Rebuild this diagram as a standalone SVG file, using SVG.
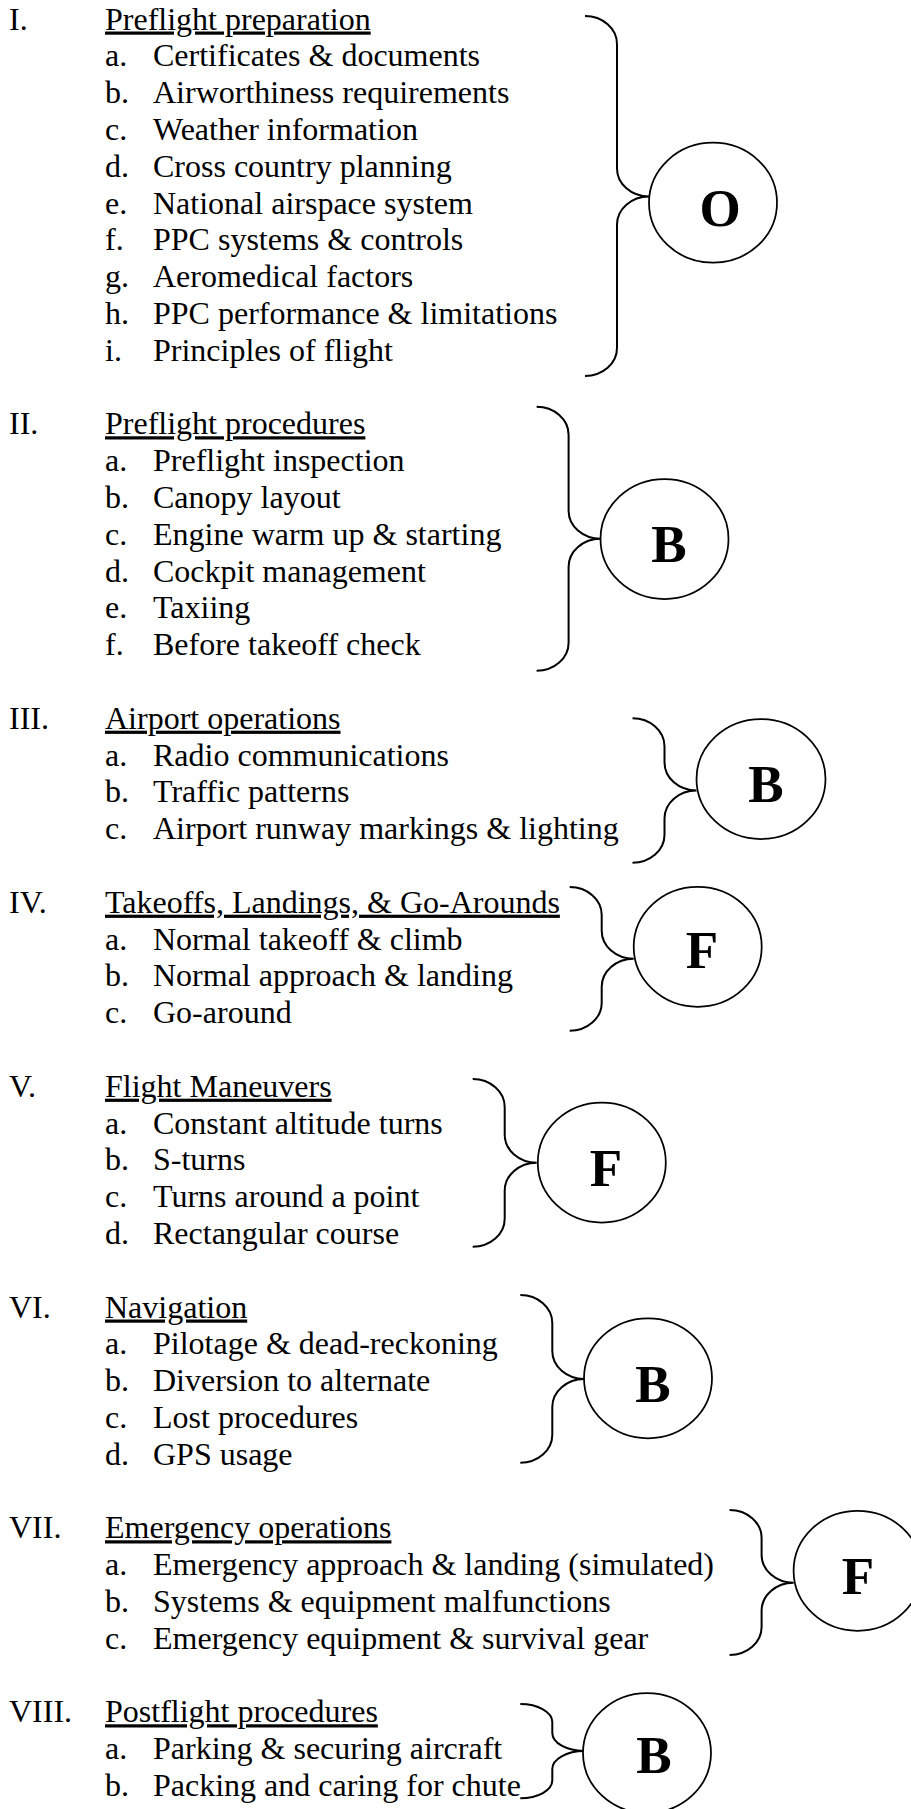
<svg xmlns="http://www.w3.org/2000/svg" width="911" height="1809" viewBox="0 0 911 1809">
<style>
text { font-family: "Liberation Serif", "Times New Roman", serif; font-size: 32px; fill: #000; }
.h { text-decoration: underline; }
.grade { font-size: 53px; font-weight: bold; text-anchor: middle; }
.node { fill: #fff; stroke: #000; stroke-width: 1.75; }
.brace { fill: none; stroke: #000; stroke-width: 2; }
</style>
<rect width="911" height="1809" fill="#fff"/>
<g id="section-1">
<text x="9" y="29.5">I.</text><text class="h" x="105" y="29.5">Preflight preparation</text>
<text x="105" y="66.3">a.</text><text x="153" y="66.3">Certificates &amp; documents</text>
<text x="105" y="103.1">b.</text><text x="153" y="103.1">Airworthiness requirements</text>
<text x="105" y="139.9">c.</text><text x="153" y="139.9">Weather information</text>
<text x="105" y="176.7">d.</text><text x="153" y="176.7">Cross country planning</text>
<text x="105" y="213.5">e.</text><text x="153" y="213.5">National airspace system</text>
<text x="105" y="250.3">f.</text><text x="153" y="250.3">PPC systems &amp; controls</text>
<text x="105" y="287.1">g.</text><text x="153" y="287.1">Aeromedical factors</text>
<text x="105" y="323.9">h.</text><text x="153" y="323.9">PPC performance &amp; limitations</text>
<text x="105" y="360.7">i.</text><text x="153" y="360.7">Principles of flight</text>
</g>
<g id="section-2">
<text x="9" y="434.3">II.</text><text class="h" x="105" y="434.3">Preflight procedures</text>
<text x="105" y="471.1">a.</text><text x="153" y="471.1">Preflight inspection</text>
<text x="105" y="507.9">b.</text><text x="153" y="507.9">Canopy layout</text>
<text x="105" y="544.7">c.</text><text x="153" y="544.7">Engine warm up &amp; starting</text>
<text x="105" y="581.5">d.</text><text x="153" y="581.5">Cockpit management</text>
<text x="105" y="618.3">e.</text><text x="153" y="618.3">Taxiing</text>
<text x="105" y="655.1">f.</text><text x="153" y="655.1">Before takeoff check</text>
</g>
<g id="section-3">
<text x="9" y="728.7">III.</text><text class="h" x="105" y="728.7">Airport operations</text>
<text x="105" y="765.5">a.</text><text x="153" y="765.5">Radio communications</text>
<text x="105" y="802.3">b.</text><text x="153" y="802.3">Traffic patterns</text>
<text x="105" y="839.1">c.</text><text x="153" y="839.1">Airport runway markings &amp; lighting</text>
</g>
<g id="section-4">
<text x="9" y="912.7">IV.</text><text class="h" x="105" y="912.7">Takeoffs, Landings, &amp; Go-Arounds</text>
<text x="105" y="949.5">a.</text><text x="153" y="949.5">Normal takeoff &amp; climb</text>
<text x="105" y="986.3">b.</text><text x="153" y="986.3">Normal approach &amp; landing</text>
<text x="105" y="1023.1">c.</text><text x="153" y="1023.1">Go-around</text>
</g>
<g id="section-5">
<text x="9" y="1096.7">V.</text><text class="h" x="105" y="1096.7">Flight Maneuvers</text>
<text x="105" y="1133.5">a.</text><text x="153" y="1133.5">Constant altitude turns</text>
<text x="105" y="1170.3">b.</text><text x="153" y="1170.3">S-turns</text>
<text x="105" y="1207.1">c.</text><text x="153" y="1207.1">Turns around a point</text>
<text x="105" y="1243.9">d.</text><text x="153" y="1243.9">Rectangular course</text>
</g>
<g id="section-6">
<text x="9" y="1317.5">VI.</text><text class="h" x="105" y="1317.5">Navigation</text>
<text x="105" y="1354.3">a.</text><text x="153" y="1354.3">Pilotage &amp; dead-reckoning</text>
<text x="105" y="1391.1">b.</text><text x="153" y="1391.1">Diversion to alternate</text>
<text x="105" y="1427.9">c.</text><text x="153" y="1427.9">Lost procedures</text>
<text x="105" y="1464.7">d.</text><text x="153" y="1464.7">GPS usage</text>
</g>
<g id="section-7">
<text x="9" y="1538.3">VII.</text><text class="h" x="105" y="1538.3">Emergency operations</text>
<text x="105" y="1575.1">a.</text><text x="153" y="1575.1">Emergency approach &amp; landing (simulated)</text>
<text x="105" y="1611.9">b.</text><text x="153" y="1611.9">Systems &amp; equipment malfunctions</text>
<text x="105" y="1648.7">c.</text><text x="153" y="1648.7">Emergency equipment &amp; survival gear</text>
</g>
<g id="section-8">
<text x="9" y="1722.3">VIII.</text><text class="h" x="105" y="1722.3">Postflight procedures</text>
<text x="105" y="1759.1">a.</text><text x="153" y="1759.1">Parking &amp; securing aircraft</text>
<text x="105" y="1795.9">b.</text><text x="153" y="1795.9">Packing and caring for chute</text>
</g>
<g id="connectors">
<path class="brace" d="M585,16 A32 28 0 0 1 617,44 L617,168.5 A32 28 0 0 0 649,196.5 A32 28 0 0 0 617,224.5 L617,348 A32 28 0 0 1 585,376"/>
<path class="brace" d="M536.6,406.7 A32 28 0 0 1 568.6,434.7 L568.6,510.7 A32 28 0 0 0 600.6,538.7 A32 28 0 0 0 568.6,566.7 L568.6,642.7 A32 28 0 0 1 536.6,670.7"/>
<path class="brace" d="M632.5,718.3 A32 28 0 0 1 664.5,746.3 L664.5,762.5 A32 28 0 0 0 696.5,790.5 A32 28 0 0 0 664.5,818.5 L664.5,834.7 A32 28 0 0 1 632.5,862.7"/>
<path class="brace" d="M569.7,887 A32 28 0 0 1 601.7,915 L601.7,930.8 A32 28 0 0 0 633.7,958.8 A32 28 0 0 0 601.7,986.8 L601.7,1002.7 A32 28 0 0 1 569.7,1030.7"/>
<path class="brace" d="M472.7,1079 A32 28 0 0 1 504.7,1107 L504.7,1134.7 A32 28 0 0 0 536.7,1162.7 A32 28 0 0 0 504.7,1190.7 L504.7,1218.7 A32 28 0 0 1 472.7,1246.7"/>
<path class="brace" d="M520.3,1295 A32 28 0 0 1 552.3,1323 L552.3,1351 A32 28 0 0 0 584.3,1379 A32 28 0 0 0 552.3,1407 L552.3,1434.7 A32 28 0 0 1 520.3,1462.7"/>
<path class="brace" d="M729.6,1510 A32 28 0 0 1 761.6,1538 L761.6,1554.7 A32 28 0 0 0 793.6,1582.7 A32 28 0 0 0 761.6,1610.7 L761.6,1627 A32 28 0 0 1 729.6,1655"/>
<path class="brace" d="M520.3,1704 A32 18 0 0 1 552.3,1722 L552.3,1733 A32 18 0 0 0 584.3,1751 A32 18 0 0 0 552.3,1769 L552.3,1780.3 A32 18 0 0 1 520.3,1798.3"/>
</g>
<g id="grade-1"><ellipse class="node" cx="713" cy="202.7" rx="64" ry="60"/><text class="grade" x="720" y="226">O</text></g>
<g id="grade-2"><ellipse class="node" cx="664.5" cy="539" rx="64" ry="60"/><text class="grade" x="669" y="562">B</text></g>
<g id="grade-3"><ellipse class="node" cx="761" cy="779" rx="64.5" ry="60"/><text class="grade" x="766" y="802">B</text></g>
<g id="grade-4"><ellipse class="node" cx="697.7" cy="946.8" rx="64" ry="60"/><text class="grade" x="702" y="968">F</text></g>
<g id="grade-5"><ellipse class="node" cx="601.8" cy="1162.5" rx="64" ry="60"/><text class="grade" x="606" y="1186">F</text></g>
<g id="grade-6"><ellipse class="node" cx="648" cy="1378.3" rx="64" ry="60"/><text class="grade" x="653" y="1402">B</text></g>
<g id="grade-7"><ellipse class="node" cx="857.6" cy="1570.8" rx="64" ry="60"/><text class="grade" x="858" y="1594">F</text></g>
<g id="grade-8"><ellipse class="node" cx="647" cy="1753" rx="64" ry="60"/><text class="grade" x="654" y="1773">B</text></g>
</svg>
